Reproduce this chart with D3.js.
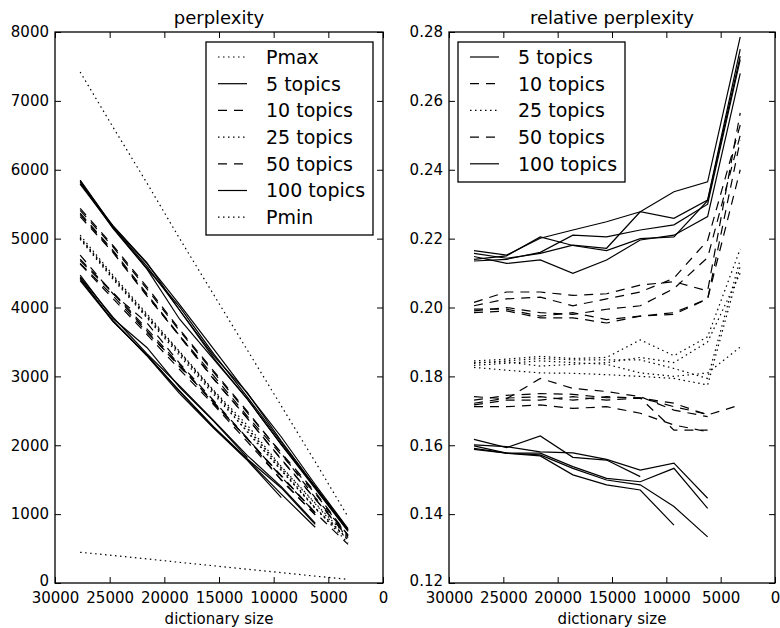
<!DOCTYPE html>
<html>
<head>
<meta charset="utf-8">
<script src="https://cdn.jsdelivr.net/npm/d3@7"></script>
<style>
  body { margin: 0; background: #fff; }
  text { font-family: "DejaVu Sans", sans-serif; fill: #000; }
</style>
</head>
<body>
<div id="chart"></div>
<script>
// dictionary sizes (x axis)
var dictSize = [27700, 24700, 21600, 18600, 15500, 12400, 9300, 6200, 3200];
var topicNames = ["5 topics", "10 topics", "25 topics", "50 topics", "100 topics"];

// left panel: perplexity, 5 runs per topic count (short runs stop early)
var pMax = [7420, 6620, 5810, 5000, 4190, 3380, 2570, 1760, 960];
var pMin = [446, 400, 350, 300, 250, 200, 150, 100, 53];
var perp5 = [
  [5850, 5180, 4640, 4040, 3400, 2750, 2120, 1430, 790],
  [5820, 5150, 4560, 3830, 3250, 2670, 2010, 1370, 750],
  [5840, 5170, 4600, 3960, 3300, 2760, 2060, 1400, 775],
  [5800, 5190, 4650, 3960, 3270, 2670, 2010, 1400, 770],
  [5790, 5160, 4570, 4010, 3330, 2700, 2040, 1390, 760]
];
var perp10 = [
  [5440, 4900, 4300, 3680, 3080, 2490, 1880, 1240, 700],
  [5410, 4880, 4270, 3660, 3060, 2470, 1890, 1320, 690],
  [5370, 4830, 4200, 3590, 3010, 2420, 1860, 1300, 680],
  [5350, 4810, 4180, 3580, 2960, 2390, 1800, 1220, 675],
  [5320, 4800, 4170, 3590, 2970, 2390, 1790, 1220, 660]
];
var perp25 = [
  [5050, 4470, 3910, 3360, 2800, 2290, 1690, 1160, 660],
  [5020, 4450, 3890, 3350, 2790, 2240, 1660, 1090, 640],
  [4990, 4410, 3850, 3300, 2740, 2200, 1640, 1080, 630],
  [5000, 4430, 3870, 3330, 2770, 2190, 1630, 1090, 580],
  [5010, 4440, 3860, 3340, 2780, 2250, 1680, 1150, 620]
];
var perp50 = [
  [4760, 4200, 3780, 3190, 2650, 2100, 1540, 1020],
  [4680, 4210, 3660, 3140, 2630, 2090, 1560, 1020, 560],
  [4630, 4130, 3610, 3100, 2590, 2050, 1500, 990],
  [4640, 4170, 3640, 3160, 2610, 2100, 1490, 990],
  [4700, 4220, 3690, 3170, 2620, 2090, 1550, 1020]
];
var perp100 = [
  [4470, 3840, 3420, 2840, 2350, 1820],
  [4440, 3860, 3330, 2860, 2360, 1850, 1400, 870],
  [4430, 3800, 3310, 2790, 2270, 1800, 1380, 850],
  [4410, 3810, 3300, 2750, 2250, 1780, 1240],
  [4390, 3800, 3310, 2780, 2260, 1790, 1290, 810]
];

// right panel: relative perplexity
var rel5 = [
  [0.2165, 0.2152, 0.2201, 0.2225, 0.2249, 0.2278, 0.2336, 0.2365, 0.2786],
  [0.2148, 0.2128, 0.2138, 0.2099, 0.2138, 0.2196, 0.2210, 0.2264, 0.2680],
  [0.2157, 0.2143, 0.2157, 0.2181, 0.2172, 0.2278, 0.2259, 0.2312, 0.2750],
  [0.2140, 0.2150, 0.2205, 0.2180, 0.2165, 0.2200, 0.2205, 0.2310, 0.2730],
  [0.2135, 0.2140, 0.2160, 0.2210, 0.2205, 0.2225, 0.2240, 0.2300, 0.2720]
];
var rel10 = [
  [0.2015, 0.2045, 0.2045, 0.2035, 0.2040, 0.2065, 0.2075, 0.2048, 0.2565],
  [0.2005, 0.2025, 0.2030, 0.2005, 0.2025, 0.2045, 0.2085, 0.2195, 0.2530],
  [0.1990, 0.2000, 0.1985, 0.1980, 0.1995, 0.2005, 0.2055, 0.2145, 0.2500],
  [0.1985, 0.1990, 0.1970, 0.1970, 0.1955, 0.1975, 0.1985, 0.2025, 0.2485],
  [0.1995, 0.1995, 0.1975, 0.1985, 0.1965, 0.1975, 0.1980, 0.2025, 0.2400]
];
var rel25 = [
  [0.1845, 0.1850, 0.1858, 0.1852, 0.1855, 0.1906, 0.1860, 0.1915, 0.2170],
  [0.1838, 0.1845, 0.1852, 0.1848, 0.1848, 0.1848, 0.1823, 0.1794, 0.2140],
  [0.1826, 0.1818, 0.1810, 0.1809, 0.1805, 0.1800, 0.1794, 0.1775, 0.2120],
  [0.1832, 0.1838, 0.1845, 0.1840, 0.1835, 0.1810, 0.1800, 0.1810, 0.1885],
  [0.1840, 0.1842, 0.1830, 0.1835, 0.1840, 0.1855, 0.1840, 0.1900, 0.2100]
];
var rel50 = [
  [0.1741, 0.1735, 0.1794, 0.1765, 0.1756, 0.1741, 0.1702, 0.1683],
  [0.1722, 0.1737, 0.1741, 0.1731, 0.1741, 0.1737, 0.1722, 0.1688, 0.1717],
  [0.1712, 0.1712, 0.1717, 0.1707, 0.1712, 0.1693, 0.1659, 0.1639],
  [0.1717, 0.1731, 0.1731, 0.1741, 0.1731, 0.1737, 0.1644, 0.1644],
  [0.1731, 0.1745, 0.1750, 0.1748, 0.1738, 0.1738, 0.1712, 0.1690]
];
var rel100 = [
  [0.1617, 0.1593, 0.1627, 0.1565, 0.1557, 0.1509],
  [0.1601, 0.1596, 0.1581, 0.1578, 0.1559, 0.1528, 0.1548, 0.1446],
  [0.1598, 0.1577, 0.1577, 0.1538, 0.1504, 0.1494, 0.1533, 0.1417],
  [0.1591, 0.1577, 0.1569, 0.1514, 0.1485, 0.1470, 0.1368],
  [0.1588, 0.1577, 0.1572, 0.1533, 0.1499, 0.1485, 0.1422, 0.1334]
];

var xTicks = [30000, 25000, 20000, 15000, 10000, 5000, 0];
var perpTicks = [0, 1000, 2000, 3000, 4000, 5000, 6000, 7000, 8000];
var relTicks = [0.12, 0.14, 0.16, 0.18, 0.20, 0.22, 0.24, 0.26, 0.28];

var width = 780, height = 628;
var SOLID = null, DASHED = "9,7", DOTTED = "1.5,3.5";
var groupDash = [SOLID, DASHED, DOTTED, DASHED, SOLID];

var svg = d3.select("#chart").append("svg")
  .attr("width", width)
  .attr("height", height);

function panel(left, right, top, bottom, yDomain, yTicks, yFmt, title) {
  var x = d3.scaleLinear().domain([30000, 0]).range([left, right]);
  var y = d3.scaleLinear().domain(yDomain).range([bottom, top]);
  var g = svg.append("g");

  // ticks point inward on all four sides
  g.append("g").attr("transform", "translate(0," + bottom + ")")
    .call(d3.axisBottom(x).tickValues(xTicks).tickSizeInner(-6).tickSizeOuter(0).tickPadding(9).tickFormat(d3.format("d")));
  g.append("g").attr("transform", "translate(0," + top + ")")
    .call(d3.axisTop(x).tickValues(xTicks).tickSizeInner(-6).tickSizeOuter(0).tickFormat(""));
  var yAxis = g.append("g").attr("transform", "translate(" + left + ",0)")
    .call(d3.axisLeft(y).tickValues(yTicks).tickSizeInner(-6).tickSizeOuter(0).tickPadding(6).tickFormat(yFmt));
  g.append("g").attr("transform", "translate(" + right + ",0)")
    .call(d3.axisRight(y).tickValues(yTicks).tickSizeInner(-6).tickSizeOuter(0).tickFormat(""));
  g.selectAll(".domain").remove();
  g.selectAll(".tick line").attr("stroke", "#000").attr("stroke-width", 1);
  g.selectAll(".tick text").style("font-size", "15px").attr("fill", "#000");
  // lift the corner label a little so it clears the first x label
  yAxis.selectAll(".tick text").filter(function(d) { return d === yDomain[0]; }).attr("dy", "0.15em");

  g.append("rect")
    .attr("x", left).attr("y", top)
    .attr("width", right - left).attr("height", bottom - top)
    .attr("fill", "none").attr("stroke", "#000").attr("stroke-width", 1.3);

  g.append("text").attr("x", (left + right) / 2).attr("y", 24)
    .attr("text-anchor", "middle").style("font-size", "18px").text(title);
  g.append("text").attr("x", (left + right) / 2).attr("y", 624)
    .attr("text-anchor", "middle").style("font-size", "15px").text("dictionary size");

  var line = d3.line()
    .x(function(d, i) { return x(dictSize[i]); })
    .y(function(d) { return y(d); });

  var plot = svg.append("g");
  return { x: x, y: y, g: g, plot: plot, line: line };
}

function drawLine(p, values, dash) {
  p.plot.append("path")
    .attr("d", p.line(values))
    .attr("fill", "none")
    .attr("stroke", "#000")
    .attr("stroke-width", 1.2)
    .attr("stroke-dasharray", dash);
}

function legend(p, x0, y0, w, h, entries) {
  var lg = svg.append("g");
  lg.append("rect").attr("x", x0).attr("y", y0).attr("width", w).attr("height", h)
    .attr("fill", "#fff").attr("stroke", "#000").attr("stroke-width", 1.3);
  entries.forEach(function(e, i) {
    var cy = y0 + 15 + i * 26.7;
    lg.append("line").attr("x1", x0 + 12).attr("x2", x0 + 41)
      .attr("y1", cy).attr("y2", cy)
      .attr("stroke", "#000").attr("stroke-width", 1.2)
      .attr("stroke-dasharray", e.dash);
    lg.append("text").attr("x", x0 + 60).attr("y", cy).attr("dy", "0.36em")
      .style("font-size", "19px").text(e.name);
  });
}

// left: perplexity
var left = panel(55, 383, 32, 583, [0, 8000], perpTicks, d3.format("d"), "perplexity");
var perpGroups = [perp5, perp10, perp25, perp50, perp100];
drawLine(left, pMax, DOTTED);
perpGroups.forEach(function(runs, k) {
  runs.forEach(function(r) { drawLine(left, r, groupDash[k]); });
});
drawLine(left, pMin, DOTTED);

var leftEntries = [{ name: "Pmax", dash: DOTTED }];
topicNames.forEach(function(n, k) { leftEntries.push({ name: n, dash: groupDash[k] }); });
leftEntries.push({ name: "Pmin", dash: DOTTED });
legend(left, 206, 42, 167, 193, leftEntries);

// right: relative perplexity
var right = panel(449, 775, 32, 583, [0.12, 0.28], relTicks, d3.format(".2f"), "relative perplexity");
var relGroups = [rel5, rel10, rel25, rel50, rel100];
relGroups.forEach(function(runs, k) {
  runs.forEach(function(r) { drawLine(right, r, groupDash[k]); });
});
legend(right, 458, 42, 167, 140, topicNames.map(function(n, k) { return { name: n, dash: groupDash[k] }; }));
</script>
</body>
</html>
